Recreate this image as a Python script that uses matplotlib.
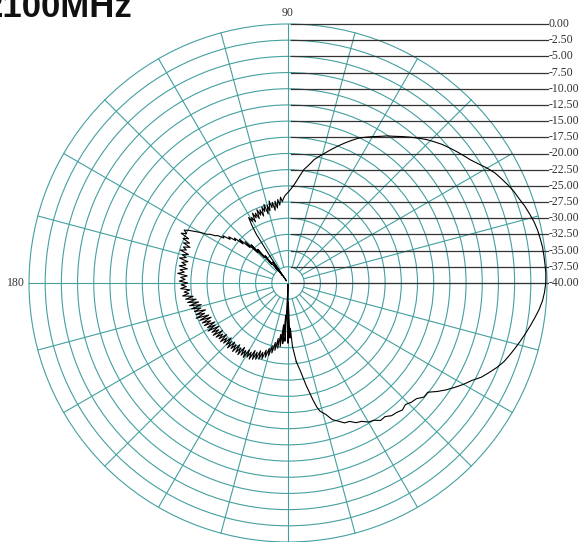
import numpy as np
import matplotlib
matplotlib.use("Agg")
import matplotlib.pyplot as plt
from matplotlib.patches import Circle

title = "2100MHz"
floor_db = -40.0
level_db = [0.00, -2.50, -5.00, -7.50, -10.00, -12.50, -15.00, -17.50, -20.00,
            -22.50, -25.00, -27.50, -30.00, -32.50, -35.00, -37.50, -40.00]
spoke_deg = list(range(0, 360, 15))

# main lobe (angle in degrees, counter-clockwise from the right)
ang_main = [-84, -82, -80, -78, -77, -76, -74, -72, -70, -68, -66, -64, -62, -60,
            -58, -56, -54, -52, -50, -48, -46, -44, -42, -40, -38, -36, -34, -32,
            -30, -28, -26, -24, -22, -20, -18, -16, -14, -12, -10, -8, -6, -4, -2,
            0, 2, 4, 6, 8, 10, 12, 14, 16, 18, 20, 22, 24, 26, 28, 30, 32, 34, 36,
            38, 40, 42, 44, 46, 48, 50, 52, 54, 56, 58, 60, 62, 64, 66, 68, 70, 72,
            74, 76, 78, 80, 82, 84, 86, 88, 90, 92]
db_main = [-27.8, -26.3, -24.0, -21.6, -20.4, -19.6, -18.9, -17.8, -17.3, -16.7,
           -16.6, -16.0, -15.8, -15.2, -15.0, -14.4, -14.5, -14.0, -13.9, -13.6,
           -13.9, -13.5, -13.3, -12.6, -12.6, -11.5, -10.5, -9.6, -8.7, -7.9, -6.8,
           -6.0, -5.2, -4.5, -4.0, -3.5, -3.0, -2.5, -2.0, -1.5, -1.0, -0.6, -0.35,
           -0.2, -0.15, -0.2, -0.25, -0.3, -0.45, -0.6, -0.85, -1.2, -1.55, -2.0,
           -2.35, -2.8, -3.3, -3.8, -4.5, -5.3, -6.0, -6.5, -7.0, -7.5, -8.0, -8.6,
           -9.2, -9.9, -10.6, -11.3, -12.0, -12.6, -13.3, -13.9, -14.5, -15.1,
           -15.9, -16.7, -17.5, -18.3, -19.1, -19.8, -20.5, -21.5, -22.3, -23.5,
           -24.6, -25.4, -26.0, -26.5]

# back lobe, one degree apart from 93 to 274
ang_back = list(range(93, 275))
db_back = [-26.9, -27.4, -26.7, -27.9, -27.0, -28.3, -27.2, -28.6, -27.3, -28.1,
           -27.0, -28.5, -27.6, -28.9, -27.3, -28.4, -27.6, -29.0, -27.9, -28.7,
           -27.7, -29.1, -28.1, -28.8, -27.9, -29.3, -28.4, -29.0, -28.2, -29.4,
           -31.0, -35.5, -39.6, -36.0, -38.5, -36.8, -37.5, -34.5, -36.2, -33.0,
           -34.6, -31.8, -33.4, -30.8, -32.0, -29.9, -30.8, -29.2, -29.6, -28.4,
           -28.8, -27.6, -27.9, -26.9, -26.6, -25.8, -25.4, -24.4, -23.6, -22.7,
           -22.0, -22.6, -21.8, -23.2, -22.4, -23.6, -22.7, -23.9, -22.9, -23.5,
           -22.6, -24.0, -23.1, -23.8, -22.8, -24.2, -23.3, -24.0, -23.0, -24.3,
           -23.2, -23.9, -22.9, -24.4, -23.4, -24.1, -23.2, -24.5, -23.5, -24.3,
           -23.4, -24.8, -23.9, -24.6, -23.6, -25.2, -24.0, -25.6, -24.2, -25.9,
           -24.4, -26.2, -24.6, -26.0, -24.9, -26.6, -25.0, -26.3, -24.8, -26.8,
           -25.2, -27.0, -25.4, -26.7, -25.5, -27.2, -25.8, -27.0, -25.6, -27.4,
           -26.0, -27.1, -25.9, -27.5, -26.1, -27.2, -26.3, -27.6, -26.2, -27.3,
           -26.4, -27.8, -26.5, -27.4, -26.3, -27.7, -26.6, -27.5, -26.4, -27.9,
           -26.6, -27.6, -26.5, -28.0, -26.7, -27.7, -26.6, -28.1, -26.9, -27.9,
           -26.8, -28.4, -27.0, -28.3, -27.2, -28.7, -27.4, -28.6, -27.6, -29.1,
           -28.0, -29.5, -28.4, -30.0, -28.9, -30.6, -29.4, -31.3, -29.8, -32.0,
           -30.1, -33.5, -30.6, -35.0, -31.0, -38.5, -39.8, -30.7, -37.0, -31.5,
           -33.0, -30.2]

grid_col = "#45a0a0"
px = 6.475  # pixels per dB

fig = plt.figure(figsize=(5.82, 5.42), dpi=100)
ax = fig.add_axes([0, 0, 1, 1])
ax.set_xlim(-288 / px, 294 / px)
ax.set_ylim(-259 / px, 283 / px)
ax.axis("off")

# rings
for lv in level_db[:-1]:
    ax.add_patch(Circle((0, 0), lv - floor_db, fill=False, ec=grid_col, lw=0.8))

# spokes
rmax = -floor_db
for d in spoke_deg:
    t = np.radians(d)
    r0 = 0 if d % 90 == 0 else 2.5
    ax.plot([r0 * np.cos(t), rmax * np.cos(t)], [r0 * np.sin(t), rmax * np.sin(t)],
            color=grid_col, lw=0.8)

# level lines with labels
for lv in level_db:
    y = lv - floor_db
    ax.plot([0.5, 40.15], [y, y], color="#333333", lw=0.9)
    ax.text(40.3, y, f"{lv:.2f}", fontsize=8.5, family="Liberation Serif",
            color="#333333", ha="left", va="center")

ax.text(0, 41.7, "90", fontsize=8.5, family="Liberation Serif", color="#333333",
        ha="center", va="center")
ax.text(-40.6, 0, "180", fontsize=8.5, family="Liberation Serif", color="#333333",
        ha="right", va="center")

# pattern
ang = np.radians(np.array(ang_main + ang_back + [ang_main[0] + 360]))
lev = np.array(db_main + db_back + [db_main[0]])
r = np.clip(lev - floor_db, 0, None)
ax.plot(r * np.cos(ang), r * np.sin(ang), color="black", lw=0.8)

fig.text(-16 / 582, 1 - 17 / 542, title, fontsize=25, fontweight="bold",
         family="Liberation Sans", color="#111111", ha="left", va="baseline")

fig.savefig("out.png", dpi=100)
